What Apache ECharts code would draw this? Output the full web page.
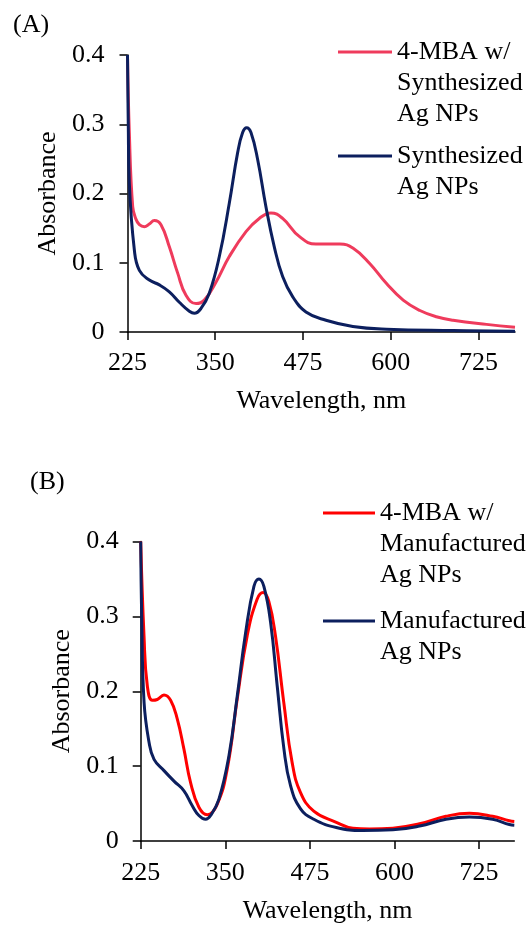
<!DOCTYPE html>
<html>
<head>
<meta charset="utf-8">
<script src="https://cdn.jsdelivr.net/npm/echarts@6.0.0/dist/echarts.min.js"></script>
<style>
html,body{margin:0;padding:0;background:#fff;}
#chart{width:531px;height:925px;}
</style>
</head>
<body>
<div id="chart"></div>
<script>
// ---------- data ----------
var xTicks = [225, 350, 475, 600, 725];
var yTicks = [0, 0.1, 0.2, 0.3, 0.4];

// Panel A: 4-MBA w/ Synthesized Ag NPs
var aRedWl  = [225, 227.6, 232.4, 237, 241.9, 249, 256, 263.2, 272.7, 284.6, 296.5, 308.3, 322.6, 334.4, 351, 370, 393.8, 412.7, 429.3, 446, 469.7, 493.4, 527.5, 546.5, 570, 594, 617.7, 641.5, 665, 688.8, 736.4, 777];
var aRedAbs = [0.40, 0.288, 0.181, 0.163, 0.155, 0.152, 0.156, 0.161, 0.155, 0.123, 0.085, 0.053, 0.041, 0.046, 0.072, 0.109, 0.145, 0.164, 0.172, 0.164, 0.138, 0.127, 0.127, 0.121, 0.099, 0.070, 0.046, 0.031, 0.022, 0.017, 0.011, 0.007];

// Panel A: Synthesized Ag NPs
var aBlueWl  = [225, 226.1, 227.6, 234.8, 241.9, 256.1, 270.4, 284.6, 298.8, 313.1, 320.2, 329.7, 341.5, 355.8, 370, 381.9, 389, 394.7, 400.9, 410.4, 422.2, 434.1, 446, 460.2, 479.2, 507.7, 546, 594, 689, 777];
var aBlueAbs = [0.40, 0.300, 0.215, 0.118, 0.089, 0.075, 0.068, 0.058, 0.043, 0.030, 0.027, 0.034, 0.056, 0.109, 0.186, 0.259, 0.288, 0.295, 0.288, 0.249, 0.181, 0.123, 0.080, 0.051, 0.029, 0.017, 0.008, 0.004, 0.002, 0.001];

// Panel B: 4-MBA w/ Manufactured Ag NPs
var bRedWl  = [225, 229.9, 234.8, 242.2, 249.5, 259.4, 269.2, 279, 288.8, 298.7, 311, 323.3, 338, 352.8, 367.5, 382.3, 397, 405.9, 414.3, 424.1, 436.4, 448.7, 461, 480.7, 514, 538.6, 563, 597.6, 637, 676, 710.7, 745, 769.7, 777];
var bRedAbs = [0.40, 0.274, 0.207, 0.188, 0.189, 0.195, 0.188, 0.163, 0.123, 0.078, 0.045, 0.035, 0.049, 0.096, 0.189, 0.274, 0.323, 0.332, 0.320, 0.274, 0.185, 0.105, 0.065, 0.040, 0.025, 0.017, 0.016, 0.017, 0.023, 0.033, 0.037, 0.033, 0.027, 0.026];

// Panel B: Manufactured Ag NPs
var bBlueWl  = [225, 226.5, 230, 237.3, 244.7, 259.4, 274.2, 288.9, 301.2, 311, 320.9, 328.3, 340.6, 355.4, 367.7, 380, 392.3, 399.7, 407, 416.9, 426.7, 436.6, 446.4, 461.2, 480.8, 514, 553, 597.6, 637, 676, 710.7, 745, 769.7, 777];
var bBlueAbs = [0.40, 0.300, 0.185, 0.132, 0.109, 0.094, 0.080, 0.067, 0.047, 0.034, 0.029, 0.034, 0.056, 0.114, 0.194, 0.278, 0.340, 0.350, 0.340, 0.292, 0.207, 0.123, 0.074, 0.043, 0.029, 0.018, 0.014, 0.015, 0.020, 0.029, 0.032, 0.029, 0.022, 0.021];

var seriesNames = ['4-MBA w/ Synthesized Ag NPs', 'Synthesized Ag NPs', '4-MBA w/ Manufactured Ag NPs', 'Manufactured Ag NPs'];
var legendLines = [['4-MBA w/', 'Synthesized', 'Ag NPs'], ['Synthesized', 'Ag NPs'], ['4-MBA w/', 'Manufactured', 'Ag NPs'], ['Manufactured', 'Ag NPs']];
var panelLabels = ['(A)', '(B)'];
var xTitle = 'Wavelength, nm';
var yTitle = 'Absorbance';

// ---------- build ----------
var FONT = "'Liberation Serif', 'Times New Roman', serif";
var RED_A = '#EF3B5C', NAVY = '#0C1F5E', RED_B = '#FF0000';

function zip(xs, ys) { return xs.map(function (x, i) { return [x, ys[i]]; }); }

function xAxisCfg(gridIndex, labelMargin, nameGap) {
  return {
    type: 'value', gridIndex: gridIndex, min: 225, max: 777, interval: 125,
    name: xTitle, nameLocation: 'middle', nameGap: nameGap,
    nameTextStyle: { fontFamily: FONT, fontSize: 26, color: '#000' },
    axisLine: { onZero: false, lineStyle: { color: '#000', width: 1.5 } },
    axisTick: { show: true, inside: false, length: 8, lineStyle: { color: '#000', width: 1.5 }, customValues: xTicks },
    axisLabel: { fontFamily: FONT, fontSize: 26, color: '#000', margin: labelMargin, customValues: xTicks },
    splitLine: { show: false }
  };
}
function yAxisCfg(gridIndex, labelMargin, nameGap) {
  return {
    type: 'value', gridIndex: gridIndex, min: 0, max: 0.4, interval: 0.1,
    name: yTitle, nameLocation: 'middle', nameGap: nameGap,
    nameTextStyle: { fontFamily: FONT, fontSize: 26, color: '#000' },
    axisLine: { show: true, lineStyle: { color: '#000', width: 1.5 } },
    axisTick: { show: true, inside: false, length: 8, lineStyle: { color: '#000', width: 1.5 } },
    axisLabel: { fontFamily: FONT, fontSize: 26, color: '#000', margin: labelMargin,
      formatter: function (v) { var i = yTicks.indexOf(Math.round(v * 10) / 10); return i >= 0 ? String(yTicks[i]) : ''; } },
    splitLine: { show: false }
  };
}
function lineSeries(idx, name, data, color) {
  return {
    type: 'line', name: name, xAxisIndex: idx, yAxisIndex: idx, data: data,
    showSymbol: false, symbol: 'none', smooth: 0.45,
    color: color, lineStyle: { color: color, width: 3 }, itemStyle: { color: color },
    clip: true, animation: false, silent: true
  };
}
// first text line is centred on the legend line: pad the top with blank lines
function legendText(lines) {
  var pad = [];
  for (var k = 0; k < lines.length - 1; k++) pad.push('');
  return pad.concat(lines).join('\n');
}
function legendCfg(i, left, iconY, itemWidth) {
  var nLines = 2 * legendLines[i].length - 1;
  return {
    data: [seriesNames[i]], left: left, top: iconY - nLines * 31 / 2, orient: 'vertical', padding: 0,
    itemWidth: itemWidth, itemHeight: 3, icon: 'rect', selectedMode: false,
    formatter: function () { return legendText(legendLines[i]); },
    textStyle: { fontFamily: FONT, fontSize: 26, lineHeight: 31, color: '#000' }
  };
}

var option = {
  backgroundColor: '#fff',
  animation: false,
  title: [
    { text: panelLabels[0], left: 13, top: 12, padding: 0, textStyle: { fontFamily: FONT, fontSize: 26, fontWeight: 'normal', color: '#000' } },
    { text: panelLabels[1], left: 30, top: 469, padding: 0, textStyle: { fontFamily: FONT, fontSize: 26, fontWeight: 'normal', color: '#000' } }
  ],
  grid: [
    { left: 127.5, top: 55, right: 16, height: 277, containLabel: false },
    { left: 140.7, top: 541.5, right: 16.7, height: 300.5, containLabel: false }
  ],
  xAxis: [xAxisCfg(0, 18, 56), xAxisCfg(1, 19, 57)],
  yAxis: [yAxisCfg(0, 23, 64), yAxisCfg(1, 22, 64)],
  legend: [
    legendCfg(0, 338, 52, 54),
    legendCfg(1, 338, 156, 54),
    legendCfg(2, 323, 513, 52),
    legendCfg(3, 323, 621, 52)
  ],
  series: [
    lineSeries(0, seriesNames[0], zip(aRedWl, aRedAbs), RED_A),
    lineSeries(0, seriesNames[1], zip(aBlueWl, aBlueAbs), NAVY),
    lineSeries(1, seriesNames[2], zip(bRedWl, bRedAbs), RED_B),
    lineSeries(1, seriesNames[3], zip(bBlueWl, bBlueAbs), NAVY)
  ]
};

var chart = echarts.init(document.getElementById('chart'), null, { renderer: 'canvas' });
chart.setOption(option);
</script>
</body>
</html>
